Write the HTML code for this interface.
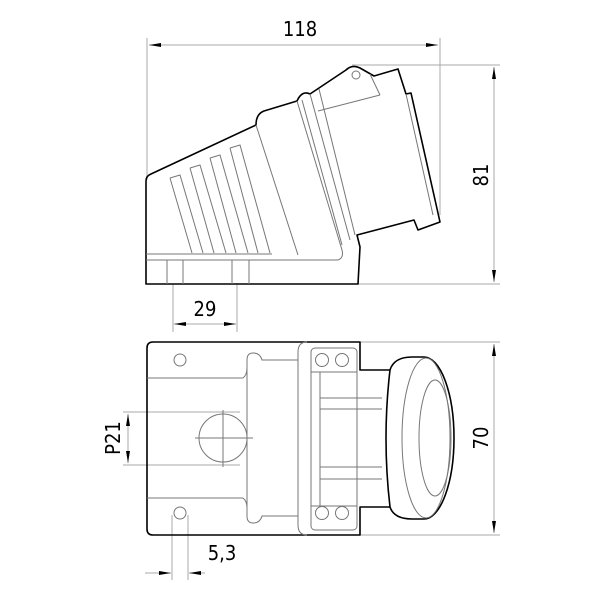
<!DOCTYPE html>
<html><head><style>html,body{margin:0;padding:0;background:#fff}svg{display:block}text{font-family:"DejaVu Sans Condensed","Liberation Sans",sans-serif;fill:#000}</style></head>
<body>
<svg width="600" height="600" viewBox="0 0 600 600" xmlns="http://www.w3.org/2000/svg">
<defs>
<marker id="a" viewBox="0 0 12 6" refX="12" refY="3" markerWidth="12" markerHeight="6" orient="auto-start-reverse" markerUnits="userSpaceOnUse"><path d="M0,1 L12,3 L0,5z" fill="#000"/></marker>
</defs>
<g stroke="#aaa" stroke-width="1" fill="none">
<line x1="147" y1="38" x2="147" y2="180"/><line x1="440" y1="38" x2="440" y2="215"/>
<line x1="149" y1="45" x2="438" y2="45" marker-start="url(#a)" marker-end="url(#a)"/>
<line x1="352" y1="65" x2="500" y2="65"/><line x1="358" y1="284" x2="500" y2="284"/>
<line x1="494" y1="67" x2="494" y2="282" marker-start="url(#a)" marker-end="url(#a)"/>
<line x1="173" y1="284" x2="173" y2="332"/><line x1="237" y1="284" x2="237" y2="332"/>
<line x1="185" y1="324" x2="225" y2="324"/>
<line x1="185" y1="324" x2="174" y2="324" marker-end="url(#a)"/>
<line x1="225" y1="324" x2="236" y2="324" marker-end="url(#a)"/>
<line x1="360" y1="342" x2="500" y2="342"/><line x1="360" y1="535" x2="500" y2="535"/>
<line x1="494" y1="344" x2="494" y2="533" marker-start="url(#a)" marker-end="url(#a)"/>
<line x1="123" y1="412" x2="240" y2="412"/><line x1="123" y1="465" x2="240" y2="465"/>
<line x1="128" y1="414" x2="128" y2="463" marker-start="url(#a)" marker-end="url(#a)"/>
<line x1="172" y1="515" x2="172" y2="580"/><line x1="188" y1="515" x2="188" y2="580"/>
<line x1="145" y1="573" x2="171" y2="573" marker-end="url(#a)"/>
<line x1="205" y1="573" x2="189" y2="573" marker-end="url(#a)"/>
</g>
<g font-size="20">
<text x="300" y="36" text-anchor="middle">118</text>
<text x="205" y="316" text-anchor="middle">29</text>
<text x="222" y="560" text-anchor="middle">5,3</text>
<text transform="translate(488,175) rotate(-90)" text-anchor="middle">81</text>
<text transform="translate(488,438) rotate(-90)" text-anchor="middle">70</text>
<text transform="translate(120,438) rotate(-90)" text-anchor="middle">P21</text>
</g>
<!-- TOP VIEW -->
<g fill="none" stroke="#000" stroke-width="1.6" stroke-linejoin="round">
<path d="M146,284 L146,181 Q146,176 151,174 L256,125 Q256,114 264,111 L297,101 Q302,90 310,94 L346,70 Q352,64 360,68 L374,76 L398,69 L406,94 L411,93 L440,222 L418,230 L414,220 L357,235 L360,247 L358,284 Z"/>
</g>
<g fill="none" stroke="#777" stroke-width="1">
<path d="M146,260 L338,260 Q344,258 342,250 L297,101"/>
<path d="M256,125 L298,255"/>
<path d="M310,94 L350,240"/>
<path d="M302,100 L342,245"/>
<path d="M319,89 L355,235"/>
<path d="M318,111 L380,95"/>
<path d="M370,74 L380,95"/>
<circle cx="356" cy="75" r="4"/>
<path d="M406,94 L433,215"/>
<line x1="146" y1="254" x2="272" y2="254"/>
<path d="M170,178 L180,175 L203,253 M170,178 L192,253"/>
<path d="M190,168 L200,165 L226,253 M190,168 L214,253"/>
<path d="M210,158 L220,155 L248,253 M210,158 L236,253"/>
<path d="M230,148 L240,145 L270,253 M230,148 L258,253"/>
<line x1="167" y1="260" x2="167" y2="284"/><line x1="183" y1="260" x2="183" y2="284"/>
<line x1="232" y1="260" x2="232" y2="284"/><line x1="249" y1="260" x2="249" y2="284"/>
</g>
<!-- BOTTOM VIEW -->
<g fill="none" stroke="#000" stroke-width="1.6" stroke-linejoin="round">
<path d="M390,370 L360,370 L360,342 L153,342 Q147,342 147,348 L147,529 Q147,535 153,535 L360,535 L360,507 L390,507"/>
<path d="M390,370 Q394,357 412,357 L424,357 A30,81 0 0 1 424,519 L412,519 Q394,519 390,507 Q382,438 390,370 Z"/>
</g>
<g fill="none" stroke="#777" stroke-width="1">
<line x1="147" y1="378" x2="243" y2="378"/><line x1="147" y1="498" x2="243" y2="498"/>
<path d="M243,378 Q247,375 247,368 L247,360 Q247,353 253,353 Q260,353 262,360 L298,360"/>
<path d="M243,498 Q247,501 247,508 L247,516 Q247,523 253,523 Q260,523 262,516 L298,516"/>
<line x1="247" y1="368" x2="247" y2="508"/>
<path d="M307,342 Q298,342 298,352 L298,525 Q298,535 307,535"/>
<rect x="311" y="348" width="46" height="182" rx="4"/>
<line x1="311" y1="372" x2="357" y2="372"/><line x1="311" y1="506" x2="357" y2="506"/>
<line x1="320" y1="372" x2="320" y2="506"/>
<path d="M320,398 L382,398 M320,409 L382,409 M320,467 L382,467 M320,479 L382,479"/>
<circle cx="322" cy="360" r="6.5"/><circle cx="342" cy="360" r="6.5"/>
<circle cx="322" cy="513" r="6.5"/><circle cx="342" cy="513" r="6.5"/>
<circle cx="180" cy="360" r="6"/><circle cx="180" cy="513" r="6"/>
<circle cx="223" cy="438" r="24"/>
<line x1="195" y1="438" x2="253" y2="438"/><line x1="223" y1="410" x2="223" y2="467"/>
<ellipse cx="426" cy="438" rx="24" ry="80"/>
<ellipse cx="435" cy="438" rx="16" ry="58"/>
</g>
</svg>
</body></html>
